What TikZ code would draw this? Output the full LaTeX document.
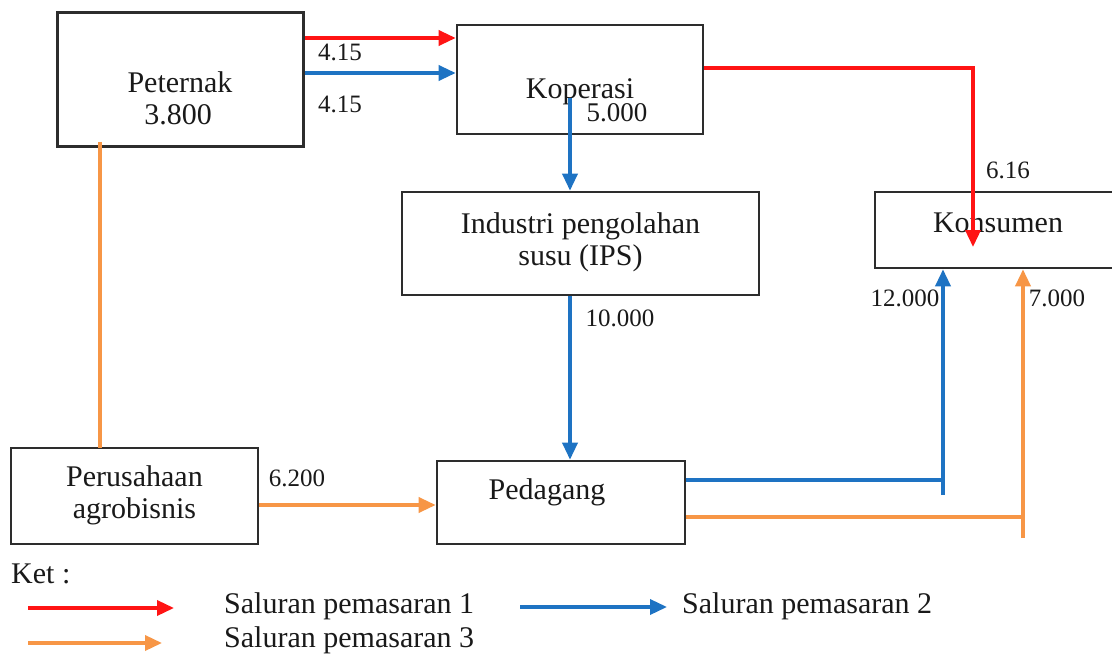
\documentclass[tikz,border=0pt]{standalone}
\usepackage{fontspec}
\setmainfont{Liberation Serif}
\usetikzlibrary{arrows.meta}
\definecolor{ch1}{RGB}{255,20,20}
\definecolor{ch2}{RGB}{30,115,195}
\definecolor{ch3}{RGB}{247,150,70}
\definecolor{frame}{RGB}{45,45,45}
\definecolor{ink}{RGB}{25,25,25}
\tikzset{
  box/.style={draw=frame, line width=2.6pt, rectangle, inner sep=0pt},
  boxtext/.style={text=ink, font=\rmfamily\fontsize{30}{35}\selectfont, align=center, inner sep=0pt},
  val/.style={text=ink, font=\rmfamily\fontsize{25}{30}\selectfont, inner sep=0pt},
  flow/.style={line width=3.5pt},
  tip/.style={-{Triangle[length=17pt,width=15pt]}},
}
\begin{document}
\begin{tikzpicture}[x=1pt,y=-1pt]
\useasboundingbox (0,0) rectangle (1112,658);

% boxes
\node[box, minimum width=246pt, minimum height=134pt] (pet) at (180.5,79.5) {};
\node[box, minimum width=246pt, minimum height=109pt] (kop) at (580,79.5) {};
\node[box, minimum width=357pt, minimum height=103pt] (ips) at (580.5,243.5) {};
\node[box, minimum width=250pt, minimum height=76pt] (kon) at (1000,230) {};
\node[box, minimum width=247pt, minimum height=96pt] (agr) at (134.5,496) {};
\node[box, minimum width=248pt, minimum height=83pt] (ped) at (561,502.5) {};

% box texts
\node[boxtext] (tpet) at (180,82) {Peternak};
\node[boxtext] (vpet) at (178,115) {3.800};
\node[boxtext] (tkop) at (580,92) {Koperasi};
\node[val, font=\rmfamily\fontsize{27}{30}\selectfont] (vkop) at (617,113) {5.000};
\node[boxtext] (tips) at (580.5,242) {Industri pengolahan\\[-3pt]susu (IPS)};
\node[boxtext] (tkon) at (998,223) {Konsumen};
\node[boxtext] (tagr) at (134.5,495) {Perusahaan\\[-3pt]agrobisnis};
\node[boxtext] (tped) at (547,492) {Pedagang};

% helper points
\coordinate (k1) at (973,68);
\coordinate (b1) at (943,480);
\coordinate (b1e) at (943,495);
\coordinate (o1) at (1023,517);
\coordinate (o1e) at (1023,538);
\coordinate (kopb) at (570,98);

% channel 1 (red)
\draw[flow, ch1, tip] (pet.east |- 0,38) -- (kop.west |- 0,38);
\draw[flow, ch1, tip] (kop.east |- k1) -- (k1) -- (973,247);

% channel 2 (blue)
\draw[flow, ch2, tip] (pet.east |- 0,73) -- (kop.west |- 0,73);
\draw[flow, ch2, tip] (kopb) -- (kopb |- ips.north);
\draw[flow, ch2, tip] (ips.south -| kopb) -- (kopb |- ped.north);
\draw[flow, ch2] (ped.east |- b1) -- (b1);
\draw[flow, ch2, tip] (b1e) -- (b1e |- kon.south);

% channel 3 (orange)
\draw[flow, ch3] (100,142) -- (100,448);
\draw[flow, ch3, tip] (agr.east |- 0,505) -- (ped.west |- 0,505);
\draw[flow, ch3] (ped.east |- o1) -- (o1);
\draw[flow, ch3, tip] (o1e) -- (o1e |- kon.south);

% values
\node[val] (l1) at (340,52) {4.15};
\node[val] (l2) at (340,104) {4.15};
\node[val] (l3) at (1008,170) {6.16};
\node[val] (l4) at (620,318) {10.000};
\node[val] (l5) at (905,298) {12.000};
\node[val] (l6) at (1057,298) {7.000};
\node[val] (l7) at (297,478) {6.200};

% legend
\node[boxtext, anchor=west] (ket) at (11,574) {Ket :};
\coordinate (r0) at (28,608); \coordinate (r1) at (174,608);
\coordinate (bb0) at (520,607); \coordinate (bb1) at (667,607);
\coordinate (y0) at (28,643); \coordinate (y1) at (162,643);
\draw[flow, ch1, tip] (r0) -- (r1);
\draw[flow, ch2, tip] (bb0) -- (bb1);
\draw[flow, ch3, tip] (y0) -- (y1);
\node[boxtext, anchor=west] (s1) at (224,606) {Saluran pemasaran 1};
\node[boxtext, anchor=west] (s2) at (682,606) {Saluran pemasaran 2};
\node[boxtext, anchor=west] (s3) at (224,640) {Saluran pemasaran 3};
\end{tikzpicture}
\end{document}
